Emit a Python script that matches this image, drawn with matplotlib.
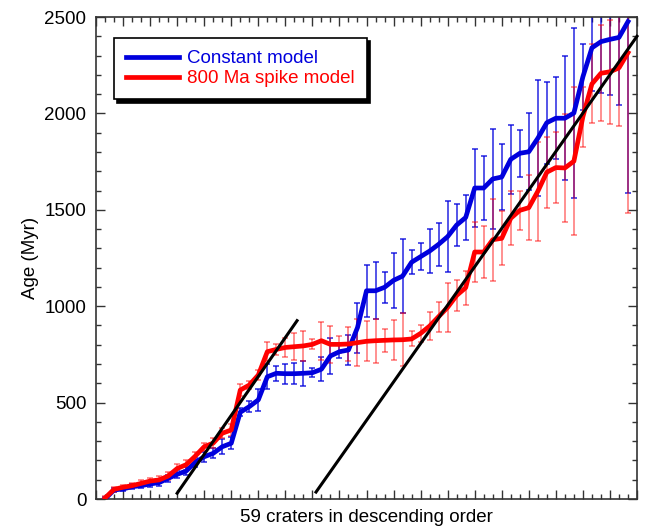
"""Crater age comparison: constant vs 800 Ma spike impact-flux model."""

import matplotlib

matplotlib.use("Agg")
import matplotlib.pyplot as plt
import numpy as np
from matplotlib.ticker import MultipleLocator, NullFormatter

plt.rcParams["font.family"] = ["Liberation Sans", "DejaVu Sans"]

# 59 craters, ordered by descending model age
crater_idx = np.arange(1, 60)

constant_age = [
    0, 47, 52, 64, 69, 78, 85, 107, 128, 145,
    190, 219, 237, 271, 289, 450, 479, 514, 634, 652,
    650, 650, 652, 655, 673, 742, 764, 773, 889, 1080,
    1080, 1098, 1134, 1156, 1228, 1257, 1286, 1321, 1361, 1421,
    1460, 1613, 1613, 1660, 1670, 1762, 1793, 1801, 1871, 1952,
    1975, 1975, 2002, 2190, 2340, 2372, 2384, 2394, 2476,
]
constant_err = [
    8, 12, 12, 14, 14, 16, 16, 18, 20, 22,
    22, 26, 26, 38, 30, 22, 30, 58, 65, 39,
    52, 56, 65, 23, 63, 92, 35, 80, 130, 134,
    148, 80, 142, 192, 61, 71, 112, 112, 183, 111,
    119, 200, 167, 260, 173, 180, 121, 200, 300, 212,
    212, 322, 442, 170, 225, 268, 289, 351, 890,
]

spike_age = [
    5, 50, 61, 69, 81, 93, 99, 119, 158, 178,
    222, 271, 290, 341, 358, 565, 591, 643, 764, 776,
    786, 790, 794, 802, 821, 802, 802, 804, 811, 818,
    821, 823, 825, 826, 830, 859, 897, 946, 994, 1056,
    1096, 1281, 1281, 1345, 1352, 1456, 1497, 1511, 1596, 1695,
    1719, 1717, 1752, 1983, 2153, 2208, 2216, 2236, 2315,
]
spike_err = [
    8, 12, 14, 14, 16, 18, 18, 20, 22, 25,
    22, 21, 24, 26, 30, 30, 19, 26, 49, 30,
    50, 69, 78, 26, 99, 97, 43, 88, 121, 104,
    115, 60, 104, 138, 39, 43, 73, 78, 128, 80,
    89, 158, 136, 212, 140, 141, 100, 168, 256, 184,
    183, 279, 384, 156, 205, 250, 270, 300, 830,
]

# straight reference trends (endpoints in crater index / Myr)
trend_young_x = [9.0, 22.3]
trend_young_y = [30, 925]
trend_old_x = [24.4, 60.0]
trend_old_y = [36, 2400]

BLUE = "#0000dd"
RED = "#ff0000"

fig = plt.figure(figsize=(6.46, 5.26), dpi=100)
ax = fig.add_axes([96 / 646, 1 - 499 / 526, 541 / 646, 482 / 526])

ax.errorbar(crater_idx, constant_age, yerr=constant_err, fmt="none",
            ecolor=BLUE, elinewidth=1.1, capsize=2.3, capthick=1.1,
            alpha=0.85, zorder=2)
ax.errorbar(crater_idx, spike_age, yerr=spike_err, fmt="none",
            ecolor=RED, elinewidth=1.1, capsize=2.3, capthick=1.1,
            alpha=0.55, zorder=2)
ax.plot(crater_idx, constant_age, color=BLUE, lw=3.4,
        label="Constant model", zorder=3)
ax.plot(crater_idx, spike_age, color=RED, lw=3.4,
        label="800 Ma spike model", zorder=4)
ax.plot(trend_young_x, trend_young_y, color="black", lw=2.2, zorder=5)
ax.plot(trend_old_x, trend_old_y, color="black", lw=2.2, zorder=5,
        clip_on=False)

ax.set_xlim(0, 60)
ax.set_ylim(0, 2500)
ax.xaxis.set_major_locator(MultipleLocator(3))
ax.xaxis.set_minor_locator(MultipleLocator(1))
ax.xaxis.set_major_formatter(NullFormatter())
ax.yaxis.set_major_locator(MultipleLocator(500))
ax.yaxis.set_minor_locator(MultipleLocator(100))

ax.tick_params(which="both", direction="in", top=True, right=True,
               color="#333333", labelsize=13.5, pad=7)
ax.tick_params(which="major", length=6.5, width=1.0)
ax.tick_params(which="minor", length=3.6, width=1.0)
for s in ax.spines.values():
    s.set_color("#333333")
    s.set_linewidth(1.2)

ax.set_xlabel("59 craters in descending order", fontsize=13.5, labelpad=0)
ax.set_ylabel("Age (Myr)", fontsize=13.5, labelpad=4)

leg = ax.legend(loc="upper left", bbox_to_anchor=(18 / 541, 1 - 21 / 482),
                borderaxespad=0, fontsize=13.5, handlelength=2.8,
                handletextpad=0.45, labelspacing=0.15, borderpad=0.65,
                fancybox=False, edgecolor="black", framealpha=1,
                shadow={"ox": 2.5, "oy": -2.5, "color": "black", "alpha": 1})
leg.get_frame().set_linewidth(1.2)
for txt, col in zip(leg.get_texts(), [BLUE, RED]):
    txt.set_color(col)

fig.savefig("out.png", dpi=100)
